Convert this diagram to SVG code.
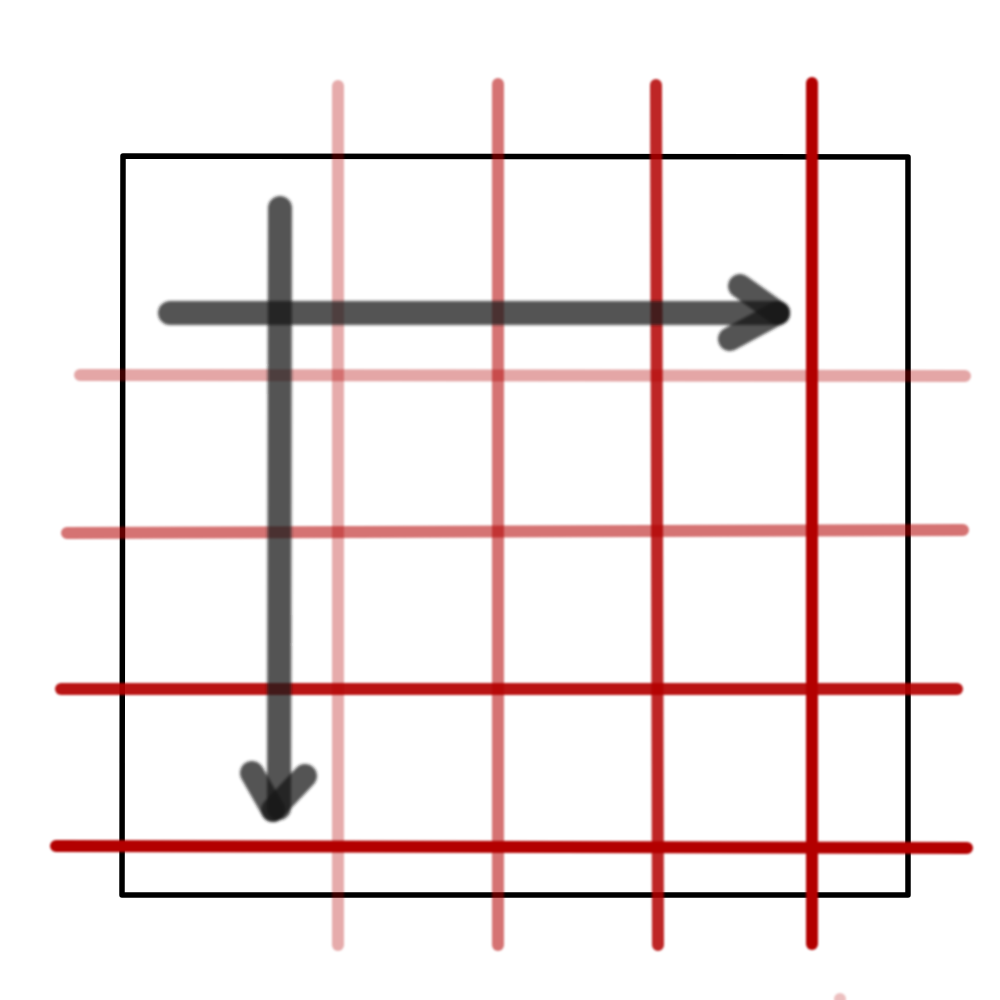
<svg xmlns="http://www.w3.org/2000/svg" width="1000" height="1000" viewBox="0 0 1000 1000">
<defs>
<style>
.red{stroke:#b30000;stroke-width:12;stroke-linecap:round;fill:none}
.frame{stroke:#000;stroke-width:5.5;fill:none;stroke-linejoin:round}
.arrow{stroke:#1a1a1a;stroke-width:24;stroke-linecap:round;fill:none;opacity:0.75}
</style>
<filter id="soft" x="-10%" y="-10%" width="120%" height="120%"><feGaussianBlur stdDeviation="1.8"/></filter>
<filter id="soft2" x="-10%" y="-10%" width="120%" height="120%"><feGaussianBlur stdDeviation="0.8"/></filter>
</defs>
<rect width="1000" height="1000" fill="#fff"/>
<g id="frame">
<path class="frame" d="M123,156 L908,157 L908,895 L122,895 Z"/>
</g>
<g id="grid" filter="url(#soft2)">
<line class="red" x1="338" y1="86" x2="338" y2="945" opacity="0.33"/>
<line class="red" x1="498" y1="84" x2="498" y2="945" opacity="0.55"/>
<line class="red" x1="656" y1="85" x2="658" y2="945" opacity="0.85"/>
<line class="red" x1="812" y1="83" x2="812" y2="944"/>
<line class="red" x1="80" y1="375" x2="965" y2="376" opacity="0.35"/>
<line class="red" x1="67" y1="533" x2="963" y2="530" opacity="0.55"/>
<line class="red" x1="61" y1="689" x2="957" y2="689" opacity="0.92"/>
<line class="red" x1="56" y1="846" x2="967" y2="848"/>
<circle cx="840" cy="999" r="6" fill="#b30000" opacity="0.25"/>
</g>
<g id="arrows" filter="url(#soft)">
<line class="arrow" x1="170" y1="313" x2="778" y2="313"/>
<line class="arrow" x1="740" y1="286" x2="778" y2="313"/>
<line class="arrow" x1="730" y1="339" x2="778" y2="313"/>
<line class="arrow" x1="280" y1="208" x2="279" y2="808"/>
<line class="arrow" x1="252" y1="773" x2="273" y2="810"/>
<line class="arrow" x1="305" y1="776" x2="273" y2="810"/>
</g>
</svg>
